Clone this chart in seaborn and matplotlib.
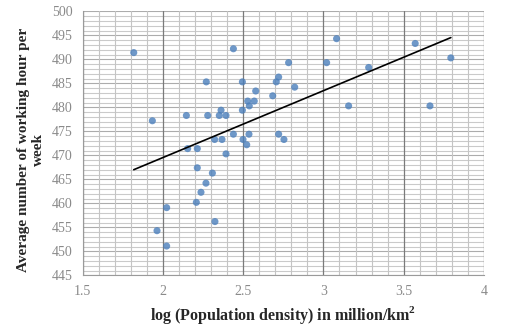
import numpy as np
import pandas as pd
import matplotlib
matplotlib.use("Agg")
import matplotlib.pyplot as plt
from matplotlib.ticker import MultipleLocator
import seaborn as sns

log_density = [1.818, 1.934, 1.963, 2.023, 2.023, 2.146, 2.154, 2.214, 2.214, 2.208,
               2.237, 2.268, 2.308, 2.270, 2.279, 2.324, 2.322, 2.362, 2.351, 2.393,
               2.368, 2.393, 2.439, 2.439, 2.495, 2.495, 2.499, 2.522, 2.536, 2.528,
               2.538, 2.569, 2.578, 2.684, 2.706, 2.721, 2.721, 2.754, 2.783, 2.821,
               3.020, 3.082, 3.157, 3.282, 3.572, 3.664, 3.794]
work_hours = [491.4, 477.2, 454.3, 459.1, 451.1, 478.3, 471.4, 471.4, 467.4, 460.2,
              462.3, 464.2, 466.3, 485.3, 478.3, 456.2, 473.3, 479.4, 478.3, 478.3,
              473.3, 470.3, 474.4, 492.2, 485.3, 479.4, 473.3, 472.2, 474.4, 481.3,
              480.3, 481.3, 483.4, 482.4, 485.3, 486.3, 474.4, 473.3, 489.3, 484.2,
              489.3, 494.3, 480.3, 488.3, 493.3, 480.3, 490.3]
x_ticks = [1.5, 2, 2.5, 3, 3.5, 4]
y_ticks = list(range(445, 501, 5))

df = pd.DataFrame({"x": log_density, "y": work_hours})

sns.set_style("white")
fig = plt.figure(figsize=(5.05, 3.30), dpi=100)
ax = fig.add_axes([0.1638, 0.1657, 0.7944, 0.8000])

sns.regplot(data=df, x="x", y="y", ax=ax, ci=None,
            scatter_kws=dict(s=26, color="#4a7ebb", edgecolor="none", zorder=3),
            line_kws=dict(color="black", lw=1.2, zorder=4))

ax.set_xlim(1.5, 4)
ax.set_ylim(445, 500)
ax.set_xticks(x_ticks)
ax.set_xticklabels([f"{t:g}" for t in x_ticks])
ax.set_yticks(y_ticks)
ax.set_yticklabels([str(t) for t in y_ticks])
ax.xaxis.set_minor_locator(MultipleLocator(0.1))
ax.yaxis.set_minor_locator(MultipleLocator(1))

ax.grid(which="minor", axis="x", color="#c4c4c4", lw=0.8)
ax.grid(which="major", axis="x", color="#7a7a7a", lw=0.9)
ax.grid(which="minor", axis="y", color="#cacaca", lw=0.8)
ax.grid(which="major", axis="y", color="#acacac", lw=0.8)
ax.set_axisbelow(True)
ax.yaxis.set_zorder(0.3)
ax.xaxis.set_zorder(0.4)

for s in ["top", "right"]:
    ax.spines[s].set_visible(False)
ax.spines["left"].set_color("#9a9a9a")
ax.spines["bottom"].set_color("#9a9a9a")
ax.spines["left"].set_linewidth(0.8)
ax.spines["bottom"].set_linewidth(0.8)

ax.tick_params(axis="both", which="major", direction="out", length=4, width=0.8,
               color="#9a9a9a", labelcolor="#8a8a8a", labelsize=10, pad=3)
ax.tick_params(axis="both", which="minor", length=0)
for lab in ax.get_xticklabels() + ax.get_yticklabels():
    lab.set_family("Liberation Serif")

ax.set_xlabel("log (Population density) in million/km$^{\\mathregular{2}}$",
              family="Liberation Serif", fontweight="bold", fontsize=11.5, labelpad=4)
ax.set_ylabel("Average number of working hour per\nweek",
              family="Liberation Serif", fontweight="bold", fontsize=11,
              linespacing=1.25)
ax.yaxis.set_label_coords(-0.094, 0.475)

fig.savefig("out.png", dpi=100)
